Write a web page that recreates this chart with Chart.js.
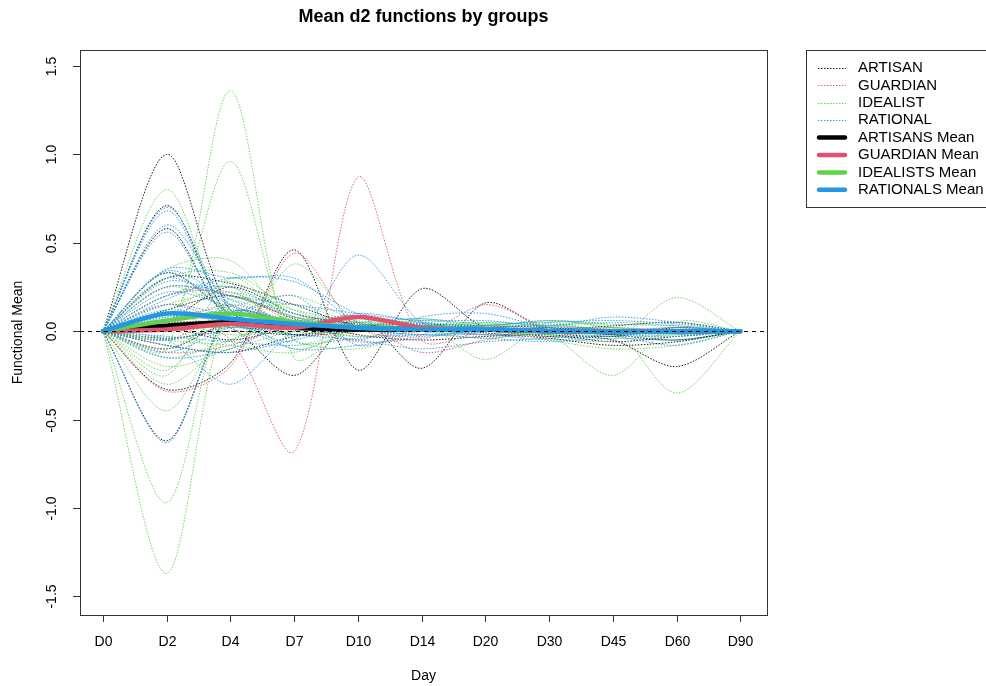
<!DOCTYPE html>
<html><head><meta charset="utf-8">
<script src="https://cdn.jsdelivr.net/npm/chart.js@4.4.0/dist/chart.umd.min.js"></script>
<style>html,body{margin:0;padding:0;background:#fff;overflow:hidden}canvas{display:block}</style>
</head><body><canvas id="c" width="986" height="686"></canvas>
<script>
// ---------- data ----------
const days = ['D0','D2','D4','D7','D10','D14','D20','D30','D45','D60','D90'];
const yTicks = [-1.5, -1.0, -0.5, 0.0, 0.5, 1.0, 1.5];

const artisanCurves = [
  [0, 1.00, 0.12, 0.02, 0.00, 0.01, 0.00, 0.00, 0.00, 0.00, 0],
  [0, -0.62, 0.10, 0.04, 0.01, 0.00, 0.00, 0.00, 0.00, 0.00, 0],
  [0, 0.71, 0.08, 0.03, 0.00, 0.00, 0.00, 0.01, 0.00, 0.00, 0],
  [0, -0.33, -0.18, 0.46, -0.22, 0.24, 0.02, 0.01, -0.02, 0.01, 0],
  [0, 0.05, 0.02, -0.25, 0.08, -0.21, 0.16, 0.00, -0.03, 0.02, 0],
  [0, 0.30, 0.27, 0.15, 0.03, 0.01, 0.00, -0.01, 0.00, 0.00, 0],
  [0, -0.10, 0.05, 0.02, 0.02, 0.01, 0.00, -0.03, -0.05, -0.20, 0],
  [0, 0.02, -0.05, 0.02, 0.02, 0.03, 0.02, 0.01, 0.03, 0.05, 0],
  [0, 0.12, 0.20, 0.07, -0.02, -0.05, -0.03, -0.02, -0.06, -0.03, 0],
  [0, -0.08, -0.12, -0.03, 0.03, 0.04, 0.03, 0.02, -0.02, -0.05, 0],
  [0, 0.33, 0.10, -0.02, 0.00, 0.02, 0.00, 0.00, 0.00, 0.00, 0],
  [0, 0.58, 0.05, 0.02, 0.00, 0.00, 0.01, 0.00, 0.00, 0.00, 0],
  [0, 0.06, 0.25, 0.10, 0.04, 0.02, 0.01, 0.00, -0.01, 0.00, 0],
  [0, -0.04, 0.00, -0.02, 0.01, 0.02, -0.01, -0.04, -0.08, -0.06, 0]
];
const guardianCurves = [
  [0, 0.10, -0.05, -0.68, 0.87, -0.05, 0.00, 0.00, 0.01, 0.00, 0],
  [0, -0.34, -0.20, 0.44, 0.02, -0.02, 0.15, 0.02, 0.00, 0.00, 0],
  [0, 0.25, 0.20, 0.08, 0.03, 0.01, 0.00, 0.00, 0.00, 0.00, 0],
  [0, 0.15, 0.05, 0.02, 0.05, -0.12, -0.05, 0.00, 0.02, 0.00, 0],
  [0, -0.05, 0.10, 0.06, 0.03, 0.01, -0.02, -0.03, 0.00, 0.02, 0],
  [0, 0.20, 0.22, 0.05, -0.03, 0.00, 0.01, 0.00, 0.00, 0.00, 0],
  [0, -0.12, -0.08, 0.05, 0.08, 0.02, 0.00, 0.01, 0.00, 0.00, 0],
  [0, 0.04, 0.15, 0.03, -0.06, -0.04, 0.02, 0.03, 0.01, 0.00, 0]
];
const idealistCurves = [
  [0, -0.10, 1.36, -0.15, 0.03, 0.01, 0.00, 0.00, 0.00, 0.00, 0],
  [0, 0.00, 0.96, -0.05, 0.02, 0.00, 0.00, 0.00, 0.00, 0.00, 0],
  [0, -1.37, 0.15, 0.02, 0.00, 0.00, 0.00, 0.00, 0.00, 0.00, 0],
  [0, -0.97, 0.20, 0.00, 0.01, 0.00, 0.00, 0.00, 0.00, 0.00, 0],
  [0, 0.80, 0.05, 0.02, 0.00, 0.00, 0.00, 0.00, 0.00, 0.00, 0],
  [0, -0.45, 0.05, 0.03, 0.00, 0.01, 0.00, 0.00, 0.00, 0.00, 0],
  [0, -0.25, 0.30, 0.05, 0.02, 0.00, 0.00, 0.00, 0.00, 0.00, 0],
  [0, 0.35, 0.40, 0.05, 0.02, 0.01, 0.00, 0.00, 0.00, 0.00, 0],
  [0, 0.02, -0.10, 0.38, 0.05, 0.02, 0.00, 0.00, 0.00, 0.00, 0],
  [0, -0.15, -0.05, 0.05, 0.00, 0.05, -0.16, 0.05, 0.02, 0.00, 0],
  [0, 0.02, 0.02, 0.03, 0.02, 0.00, 0.02, -0.02, -0.25, 0.05, 0],
  [0, 0.05, -0.02, 0.00, 0.02, 0.00, -0.02, 0.03, 0.02, -0.35, 0],
  [0, -0.05, 0.03, 0.02, -0.03, 0.02, 0.05, -0.02, -0.05, 0.19, 0],
  [0, 0.20, 0.28, 0.10, 0.02, 0.01, 0.05, 0.03, 0.00, 0.00, 0],
  [0, -0.30, -0.05, 0.05, 0.02, 0.00, 0.00, 0.00, 0.00, 0.00, 0],
  [0, 0.15, 0.22, 0.12, 0.05, 0.02, 0.00, 0.00, 0.00, 0.00, 0],
  [0, -0.10, 0.10, 0.15, 0.05, 0.07, 0.03, 0.06, 0.02, 0.00, 0],
  [0, 0.25, 0.12, -0.10, 0.00, 0.00, 0.00, 0.00, 0.00, 0.00, 0],
  [0, -0.20, -0.10, 0.00, 0.03, 0.02, 0.00, -0.02, 0.00, -0.05, 0],
  [0, 0.10, 0.05, 0.08, 0.02, 0.03, 0.04, 0.03, 0.05, 0.03, 0],
  [0, 0.30, 0.33, 0.12, 0.03, 0.00, 0.02, 0.00, 0.00, 0.00, 0],
  [0, -0.22, 0.18, 0.08, 0.01, 0.00, 0.00, 0.00, -0.03, -0.02, 0],
  [0, 0.08, 0.14, 0.20, 0.06, 0.00, -0.04, 0.00, 0.02, 0.00, 0],
  [0, -0.05, -0.08, -0.12, 0.02, 0.06, 0.02, -0.05, -0.10, -0.08, 0],
  [0, 0.12, 0.25, -0.05, -0.10, 0.00, 0.03, 0.05, 0.00, 0.02, 0]
];
const rationalCurves = [
  [0, -0.63, 0.10, 0.04, 0.00, 0.00, 0.00, 0.00, 0.00, 0.00, 0],
  [0, 0.70, 0.12, 0.02, 0.00, 0.00, 0.00, 0.00, 0.00, 0.00, 0],
  [0, 0.68, 0.08, 0.03, 0.00, 0.00, 0.00, 0.00, 0.00, 0.00, 0],
  [0, 0.60, 0.15, 0.02, 0.01, 0.00, 0.00, 0.00, 0.00, 0.00, 0],
  [0, 0.56, 0.05, 0.01, 0.00, 0.00, 0.00, 0.00, 0.00, 0.00, 0],
  [0, 0.35, 0.30, 0.30, 0.05, 0.02, 0.00, 0.00, 0.00, 0.00, 0],
  [0, 0.33, 0.10, 0.02, 0.01, 0.00, 0.00, 0.00, 0.00, 0.00, 0],
  [0, -0.05, -0.30, 0.00, 0.10, 0.05, 0.00, 0.00, 0.00, 0.00, 0],
  [0, 0.02, 0.05, -0.05, 0.43, 0.05, -0.02, 0.00, 0.00, 0.00, 0],
  [0, -0.15, -0.10, 0.05, -0.05, 0.08, 0.10, 0.02, 0.00, 0.00, 0],
  [0, 0.25, 0.20, 0.15, 0.10, 0.06, 0.06, 0.03, 0.08, 0.05, 0],
  [0, 0.12, 0.05, -0.10, -0.08, -0.03, -0.02, -0.05, -0.03, -0.08, 0],
  [0, 0.05, 0.12, 0.05, 0.02, 0.02, 0.03, 0.06, 0.04, 0.03, 0],
  [0, -0.05, 0.02, -0.02, -0.05, -0.10, -0.06, -0.04, -0.02, -0.02, 0],
  [0, 0.20, 0.25, 0.08, 0.02, 0.00, 0.00, 0.00, 0.00, 0.00, 0],
  [0, 0.15, 0.10, 0.20, -0.08, 0.02, 0.00, 0.00, 0.00, 0.00, 0],
  [0, 0.30, 0.15, 0.02, 0.00, 0.00, 0.00, 0.00, 0.00, 0.00, 0],
  [0, -0.08, -0.12, -0.05, 0.03, 0.05, 0.02, 0.04, 0.00, 0.02, 0],
  [0, 0.10, 0.08, 0.04, 0.02, 0.01, 0.03, 0.01, -0.02, -0.03, 0],
  [0, -0.12, 0.02, 0.06, 0.01, -0.02, 0.00, 0.02, 0.01, 0.00, 0],
  [0, 0.34, 0.18, 0.05, 0.02, 0.00, 0.00, 0.00, 0.00, 0.00, 0],
  [0, 0.28, 0.20, 0.10, 0.03, 0.01, 0.00, 0.00, 0.00, 0.00, 0],
  [0, 0.18, 0.30, 0.28, 0.10, 0.04, 0.02, 0.00, 0.00, 0.00, 0],
  [0, 0.08, 0.06, 0.02, 0.05, 0.07, 0.04, 0.05, 0.06, 0.04, 0],
  [0, -0.03, -0.06, -0.08, -0.04, -0.02, -0.04, -0.06, -0.04, -0.05, 0],
  [0, 0.22, 0.14, 0.06, 0.01, -0.02, 0.00, 0.02, 0.00, 0.00, 0]
];

const artisanMean  = [0, 0.03, 0.05, 0.02, 0.01, 0.01, 0.01, 0.00, 0.00, 0.00, 0];
const guardianMean = [0, 0.01, 0.04, 0.02, 0.08, 0.02, 0.01, 0.00, 0.00, 0.00, 0];
const idealistMean = [0, 0.06, 0.10, 0.05, 0.02, 0.01, 0.01, 0.00, 0.00, 0.00, 0];
const rationalMean = [0, 0.10, 0.07, 0.04, 0.02, 0.01, 0.01, 0.00, 0.00, 0.00, 0];

const groupNames = ['ARTISAN', 'GUARDIAN', 'IDEALIST', 'RATIONAL'];
const meanNames = ['ARTISANS Mean', 'GUARDIAN Mean', 'IDEALISTS Mean', 'RATIONALS Mean'];
const groupColors = ['#000000', '#DF536B', '#61D04F', '#2297E6'];
const indivColors = ['rgba(0,0,0,0.9)', 'rgba(223,83,107,0.9)', 'rgba(97,208,79,0.9)', 'rgba(34,151,230,0.9)'];

// ---------- build datasets ----------
const toPts = arr => arr.map((v, i) => ({x: i, y: v}));
const seq = [];
[artisanCurves, guardianCurves, idealistCurves, rationalCurves].forEach((grp, g) => {
  grp.forEach(c => seq.push({
    data: toPts(c), borderColor: indivColors[g], borderWidth: 1,
    borderDash: [1.5, 1.5], tension: 0.3, pointRadius: 0, fill: false
  }));
});
[artisanMean, guardianMean, idealistMean, rationalMean].forEach((m, g) => {
  seq.push({
    data: toPts(m), borderColor: groupColors[g], borderWidth: 4.5,
    tension: 0.3, pointRadius: 0, fill: false, borderCapStyle: 'round'
  });
});
const N = seq.length;
seq.forEach((d, k) => { d.order = N - k; });

const FONT = '"Liberation Sans", Arial, sans-serif';

const decor = {
  id: 'decor',
  afterDatasetsDraw(chart) {
    const {ctx, chartArea: a, scales: {y}} = chart;
    ctx.save();
    ctx.strokeStyle = '#000'; ctx.lineWidth = 1; ctx.setLineDash([4, 4]);
    const y0 = Math.round(y.getPixelForValue(0)) + 0.5;
    ctx.beginPath(); ctx.moveTo(a.left, y0); ctx.lineTo(a.right, y0); ctx.stroke();
    ctx.setLineDash([]);
    ctx.restore();
  },
  afterDraw(chart) {
    const {ctx, chartArea: a, scales: {x, y}} = chart;
    ctx.save();
    ctx.strokeStyle = '#333'; ctx.lineWidth = 1;
    ctx.strokeRect(a.left + 0.5, a.top + 0.5, a.right - a.left, a.bottom - a.top);
    ctx.fillStyle = '#000';
    ctx.font = '14px ' + FONT;
    ctx.textAlign = 'center'; ctx.textBaseline = 'middle';
    days.forEach((d, i) => {
      const px = Math.round(x.getPixelForValue(i)) + 0.5;
      ctx.beginPath(); ctx.moveTo(px, a.bottom); ctx.lineTo(px, a.bottom + 7); ctx.stroke();
      ctx.fillText(d, px, 642);
    });
    yTicks.forEach(v => {
      const py = Math.round(y.getPixelForValue(v)) + 0.5;
      ctx.beginPath(); ctx.moveTo(a.left - 7, py); ctx.lineTo(a.left, py); ctx.stroke();
      ctx.save(); ctx.translate(52, py); ctx.rotate(-Math.PI / 2);
      ctx.fillText(v.toFixed(1), 0, 0); ctx.restore();
    });
    ctx.fillText('Day', (a.left + a.right) / 2, 676);
    ctx.save(); ctx.translate(18, (a.top + a.bottom) / 2); ctx.rotate(-Math.PI / 2);
    ctx.fillText('Functional Mean', 0, 0); ctx.restore();
    ctx.font = 'bold 18px ' + FONT;
    ctx.fillText('Mean d2 functions by groups', (a.left + a.right) / 2, 17);
    // legend
    ctx.strokeStyle = '#333'; ctx.lineWidth = 1;
    ctx.strokeRect(806.5, 50.5, 200, 157);
    ctx.font = '15px ' + FONT; ctx.textAlign = 'left';
    const rowY = k => 68 + 17.4 * k;
    groupNames.forEach((n, g) => {
      const yy = Math.round(rowY(g)) + 0.5;
      ctx.strokeStyle = indivColors[g]; ctx.lineWidth = 1; ctx.setLineDash([1.5, 1.5]);
      ctx.beginPath(); ctx.moveTo(818, yy); ctx.lineTo(846, yy); ctx.stroke();
      ctx.setLineDash([]);
      ctx.fillStyle = '#000'; ctx.fillText(n, 858, rowY(g));
    });
    meanNames.forEach((n, g) => {
      const yy = rowY(g + 4);
      ctx.strokeStyle = groupColors[g]; ctx.lineWidth = 4.5; ctx.lineCap = 'round';
      ctx.beginPath(); ctx.moveTo(819, yy); ctx.lineTo(845, yy); ctx.stroke();
      ctx.fillStyle = '#000'; ctx.fillText(n, 858, yy);
    });
    ctx.restore();
  }
};

new Chart(document.getElementById('c'), {
  type: 'line',
  data: { datasets: seq },
  options: {
    responsive: false, animation: false, events: [],
    layout: { padding: { left: 80, top: 50, right: 219, bottom: 71 } },
    plugins: { legend: { display: false }, tooltip: { enabled: false }, title: { display: false } },
    scales: {
      x: { type: 'linear', min: -0.36, max: 10.42, display: false },
      y: { type: 'linear', min: -1.605, max: 1.59, display: false }
    }
  },
  plugins: [decor]
});
</script>
</body></html>
